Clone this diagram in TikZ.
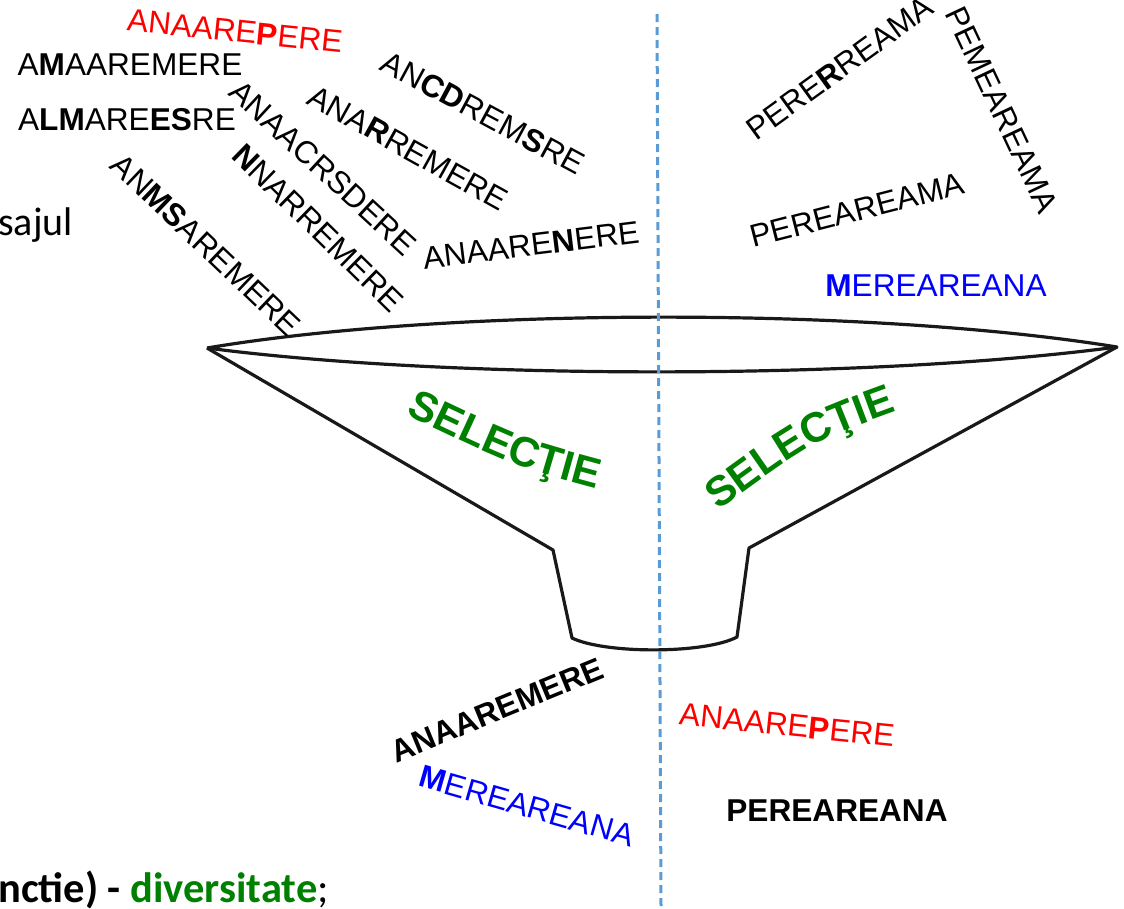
\documentclass[tikz,border=0pt]{standalone}
\usepackage{fontspec}
\setmainfont{Liberation Sans}
\newfontfamily\calibrifont{Carlito}
\usetikzlibrary{decorations.text}
\definecolor{pgreen}{RGB}{0,128,0}
\definecolor{pblue}{RGB}{0,0,255}
\definecolor{pred}{RGB}{255,0,0}
\definecolor{dashblue}{RGB}{91,155,213}
\begin{document}
\begin{tikzpicture}[x=1pt,y=-1pt,
  word/.style={font=\fontsize{31.6}{38}\selectfont, inner sep=0pt},
  redword/.style={word, text=pred},
  blueword/.style={word, text=pblue},
  boldword/.style={word, font=\fontsize{31.6}{38}\selectfont\bfseries},
  slidetext/.style={font=\calibrifont\fontsize{40}{48}\selectfont, inner sep=0pt, anchor=base west},
  funnel/.style={line width=3.2pt, line join=round, black!90},
  divider/.style={line width=3pt, dashblue, dash pattern=on 8pt off 5pt},
  arch/.style={decorate, decoration={text along path, text align=center,
     text color=pgreen, text={|\fontsize{42}{50}\selectfont\bfseries|SELECŢIE}}}]
\useasboundingbox (0,0) rectangle (1124,908);

% funnel
\coordinate (lt) at (207,348);
\coordinate (rt) at (1117,347);
\draw[funnel] (lt) .. controls (450,307) and (870,307) .. (rt)
  .. controls (870,380) and (450,380) .. (lt);
\draw[funnel] (lt) -- (553,550) -- (572,638) .. controls (605,654) and (705,654) .. (737,637) -- (749,548) -- (rt);

% divider
\coordinate (dtop) at (657,14);
\coordinate (dbot) at (661,906);
\draw[divider] (dtop) -- (dbot);

% SELECTIE arched labels
\path[arch] (404,414) .. controls (513,466) .. (598,489);
\path[arch] (715,513) .. controls (812,442) .. (900,410);

% slide text fragments
\node[slidetext] (sajul) at (-2,235) {sajul};
\node[slidetext, font=\calibrifont\fontsize{42.5}{50}\selectfont] (func) at (-2,902) {\bfseries nctie) - \textcolor{pgreen}{diversitate}\mdseries;};

% left words
\node[redword, rotate=-5.9] (w1) at (235,31) {ANAARE\textbf{P}ERE};
\node[word] (w2) at (130,64.5) {A\textbf{M}AAREMERE};
\node[word] (w3) at (127,120) {A\textbf{LM}ARE\textbf{ES}RE};
\node[word, rotate=-43.6] (w4) at (206,245) {AN\textbf{MS}AREMERE};
\node[word, rotate=-42.6] (w5) at (323,168) {ANAACRSDERE};
\node[word, rotate=-44.4] (w6) at (318,228) {\textbf{N}NARREMERE};
\node[word, rotate=-29] (w7) at (408,148) {ANA\textbf{R}REMERE};
\node[word, rotate=-28.3] (w8) at (483,113) {AN\textbf{CD}REM\textbf{S}RE};
\node[word, rotate=7] (w9) at (531,245) {ANAARE\textbf{N}ERE};

% right words
\node[word, rotate=35.9] (w10) at (840,68) {PERE\textbf{R}REAMA};
\node[word, rotate=-64.8] (w11) at (1002,110) {PEMEAREAMA};
\node[word, rotate=14.4] (w12) at (857,210) {PEREAREAMA};
\node[blueword] (w13) at (936,286) {\textbf{M}EREAREANA};

% output words
\node[boldword, rotate=22.3] (o1) at (497,710) {ANAAREMERE};
\node[blueword, rotate=-16] (o2) at (527,806) {\textbf{M}EREAREANA};
\node[redword, rotate=-5.9] (o3) at (787,725) {ANAARE\textbf{P}ERE};
\node[boldword] (o4) at (837,811) {PEREAREANA};
\end{tikzpicture}
\end{document}
